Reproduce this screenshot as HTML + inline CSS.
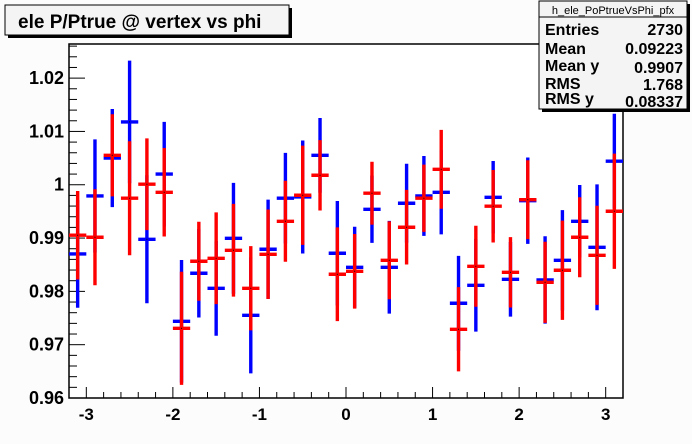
<!DOCTYPE html>
<html><head><meta charset="utf-8"><style>
body{margin:0;background:#fff}
svg{display:block;font-family:"Liberation Sans",Arial,sans-serif}
</style></head><body>
<svg id="c" width="692" height="444" viewBox="0 0 692 444">
<rect x="0" y="0" width="692" height="444" fill="#fcfcfc"/>
<rect x="69" y="44" width="554" height="354" fill="#fff" stroke="#000" stroke-width="1.5"/>
<g id="axes"></g>
<g id="marks"></g>
<g>
<rect x="8" y="8" width="284" height="30" fill="#000"/>
<rect x="5" y="5" width="284" height="30" fill="#f4f4f4" stroke="#000" stroke-width="1"/>
<text x="18" y="28" font-size="19" font-weight="bold">ele P/Ptrue @ vertex vs phi</text>
</g>
<g>
<rect x="542" y="4" width="148" height="108" fill="#000"/>
<rect x="539" y="1" width="148" height="108" fill="#f4f4f4" stroke="#000" stroke-width="1"/>
<line x1="539" y1="17" x2="687" y2="17" stroke="#000"/>
<text x="613" y="14" font-size="11" text-anchor="middle">h_ele_PoPtrueVsPhi_pfx</text>
<g font-size="16" font-weight="bold">
<text x="545" y="35">Entries</text><text x="683" y="35" text-anchor="end">2730</text>
<text x="545" y="54">Mean</text><text x="683" y="54" text-anchor="end">0.09223</text>
<text x="545" y="71">Mean y</text><text x="683" y="73" text-anchor="end">0.9907</text>
<text x="545" y="89">RMS</text><text x="683" y="90" text-anchor="end">1.768</text>
<text x="545" y="104">RMS y</text><text x="683" y="107" text-anchor="end">0.08337</text>
</g></g>
</svg>
<script>
const blueVals=[0.98702,0.9979,1.0050,1.01178,0.98977,1.0020,0.97439,0.9834,0.98058,0.98996,0.97551,0.9879,0.99747,0.99771,1.00553,0.98715,0.98452,0.9954,0.98452,0.99653,0.9979,0.99859,0.97777,0.98114,0.99765,0.98227,0.99702,0.98214,0.98583,0.99315,0.98827,1.00441];
const blueErrs=[0.0101,0.0106,0.0092,0.0115,0.012,0.0098,0.0115,0.0083,0.0089,0.0104,0.0109,0.0093,0.0085,0.0106,0.007,0.0098,0.0076,0.0063,0.0087,0.0074,0.0075,0.0079,0.0089,0.0087,0.0068,0.007,0.0081,0.0082,0.0094,0.0068,0.0118,0.0089];
const redVals=[0.99053,0.99015,1.00553,0.99747,1.0001,0.99859,0.97307,0.98565,0.98621,0.98771,0.98058,0.98696,0.99315,0.99803,1.00178,0.98321,0.98377,0.99841,0.98583,0.99203,0.99747,1.0029,0.97289,0.98471,0.99597,0.98358,0.9972,0.9817,0.98396,0.99015,0.98677,0.99503];
const redErrs=[0.0083,0.009,0.0077,0.0107,0.0086,0.0083,0.0106,0.0074,0.0086,0.0087,0.0079,0.0084,0.0076,0.0093,0.0066,0.0088,0.007,0.0059,0.0073,0.007,0.0063,0.0074,0.0079,0.0076,0.0068,0.0066,0.0074,0.0076,0.0093,0.0075,0.0093,0.0108];
const xTicks=[-3,-2,-1,0,1,2,3];
const yTicks=[0.96,0.97,0.98,0.99,1.00,1.01,1.02];
const yTickLabels=["0.96","0.97","0.98","0.99","1","1.01","1.02"];
const X0=-3.2,X1=3.2,Y0=0.96,Y1=1.0264;
const L=69,R=623,T=44,B=398;
const sx=v=>L+(v-X0)/(X1-X0)*(R-L);
const sy=v=>B-(v-Y0)/(Y1-Y0)*(B-T);
const NS="http://www.w3.org/2000/svg";
function mk(p,tag,a){const e=document.createElementNS(NS,tag);for(const k in a)e.setAttribute(k,a[k]);p.appendChild(e);return e;}
const ax=document.getElementById('axes');
for(let v=-3.2;v<=3.201;v+=0.2){const x=sx(v);const major=Math.abs(v-Math.round(v))<1e-6;
 const t=mk(ax,'line',{x1:x,x2:x,y1:B,y2:B-(major?11:6),stroke:'#000','stroke-width':1});
 
 }
xTicks.forEach(v=>{const t=mk(ax,'text',{x:sx(v),y:420,'font-size':17,'font-weight':'bold','text-anchor':'middle'});t.textContent=String(v);
 
 });
for(let v=0.96;v<=1.0265;v+=0.002){const y=sy(v);const major=Math.abs(v*100-Math.round(v*100))<1e-6;
 const t=mk(ax,'line',{x1:L,x2:L+(major?16:8),y1:y,y2:y,stroke:'#000','stroke-width':1});
 
 }
yTicks.forEach((v,i)=>{const t=mk(ax,'text',{x:64,y:sy(v)+6,'font-size':18,'font-weight':'bold','text-anchor':'end'});t.textContent=yTickLabels[i];
 
 });
const mg=document.getElementById('marks');
function series(vals,errs,col,name){const g=mk(mg,'g',{});
 
 
 vals.forEach((v,i)=>{const c=X0+0.1+0.2*i;const x=sx(c);const hw=(sx(0.2)-sx(0))/2;
  const e=mk(g,'line',{x1:x,x2:x,y1:sy(v-errs[i]),y2:sy(v+errs[i]),stroke:col,'stroke-width':3.4});
  
  
  const h=mk(g,'line',{x1:x-hw,x2:x+hw,y1:sy(v),y2:sy(v),stroke:col,'stroke-width':3.4});
  
  
  mk(g,'rect',{x:x-0.5,y:sy(v)-0.5,width:1,height:1,fill:'#000'});});}
series(blueVals,blueErrs,'#0000ff','blue-series');
series(redVals,redErrs,'#ff0000','red-series');
</script>
</body></html>
